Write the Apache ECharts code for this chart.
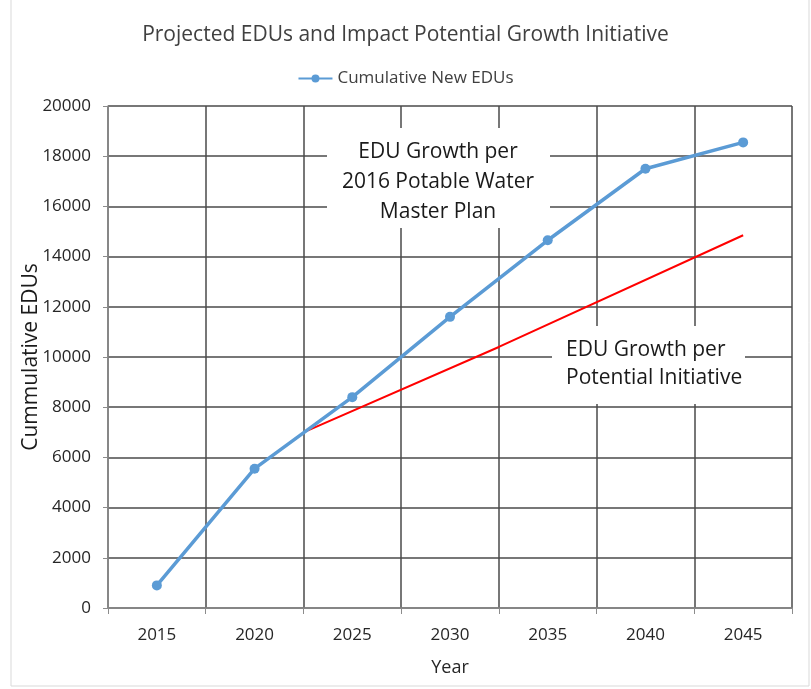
<!DOCTYPE html>
<html>
<head>
<meta charset="utf-8">
<script src="https://cdn.jsdelivr.net/npm/echarts@6/dist/echarts.min.js"></script>
<style>
  html, body { margin: 0; padding: 0; background: #fff; }
  #chart { width: 811px; height: 689px; }
</style>
</head>
<body>
<div id="chart"></div>
<script>
const years = ['2015', '2020', '2025', '2030', '2035', '2040', '2045']
const yearValues = [2015, 2020, 2025, 2030, 2035, 2040, 2045]
const cumulativeEdus = [900, 5550, 8400, 11600, 14650, 17500, 18550]
// red "potential initiative" line
const initiativeYears = [2022.5, 2032.5, 2045]
const initiativeEdus = [7000, 10400, 14850]

const font = 'Open Sans'
const chart = echarts.init(document.getElementById('chart'))

chart.setOption({
  backgroundColor: '#fff',
  textStyle: { fontFamily: font },
  title: {
    text: 'Projected EDUs and Impact Potential Growth Initiative',
    left: 'center',
    top: 20,
    textStyle: { fontSize: 21, fontWeight: 'normal', color: '#404040', fontFamily: font },
  },
  legend: {
    data: ['Cumulative New EDUs'],
    top: 65,
    left: 'center',
    itemWidth: 34,
    itemHeight: 10,
    itemGap: 4,
    textStyle: { fontSize: 17, color: '#404040', fontFamily: font },
  },
  grid: { left: 108, right: 19, top: 106, bottom: 81 },
  xAxis: [
    {
      type: 'category',
      data: years,
      boundaryGap: true,
      name: 'Year',
      nameLocation: 'middle',
      nameGap: 51,
      nameTextStyle: { fontSize: 18, color: '#262626' },
      axisLine: { show: true, lineStyle: { color: '#8c8c8c', width: 1.5 } },
      axisTick: { show: true, length: 6, lineStyle: { color: '#8c8c8c' } },
      axisLabel: { fontSize: 17, color: '#262626', margin: 19 },
      splitLine: { show: true, lineStyle: { color: '#4a4a4a', width: 1.5 } },
    },
    {
      type: 'value',
      show: false,
      min: 2012.5,
      max: 2047.5,
    },
  ],
  yAxis: {
    type: 'value',
    min: 0,
    max: 20000,
    interval: 2000,
    name: 'Cummulative EDUs',
    nameLocation: 'middle',
    nameGap: 66,
    nameMoveOverlap: false,
    nameTextStyle: { fontSize: 21, color: '#1a1a1a' },
    axisLine: { show: true, lineStyle: { color: '#8c8c8c', width: 1.5 } },
    axisTick: { show: true, length: 5, lineStyle: { color: '#8c8c8c' } },
    axisLabel: { fontSize: 17, color: '#262626', margin: 17, formatter: (v) => String(v) },
    splitLine: { show: true, lineStyle: { color: '#4a4a4a', width: 1.5 } },
  },
  series: [
    {
      name: 'Cumulative New EDUs',
      type: 'line',
      xAxisIndex: 1,
      data: yearValues.map((y, i) => [y, cumulativeEdus[i]]),
      color: '#5B9BD5',
      symbol: 'circle',
      symbolSize: 10,
      lineStyle: { width: 3.5 },
      z: 5,
    },
    {
      name: 'Potential Initiative',
      type: 'line',
      xAxisIndex: 1,
      data: initiativeYears.map((y, i) => [y, initiativeEdus[i]]),
      color: '#FF0000',
      symbol: 'none',
      lineStyle: { width: 2 },
      z: 4,
    },
  ],
  graphic: [
    {
      type: 'rect',
      shape: { x: 11, y: -5, width: 798, height: 691 },
      style: { fill: null, stroke: '#d9d9d9', lineWidth: 1 },
      silent: true,
    },
    {
      type: 'rect',
      shape: { x: 327, y: 128, width: 223, height: 100 },
      style: { fill: '#fff' },
      z: 3,
    },
    {
      type: 'text',
      x: 438,
      y: 137,
      style: {
        text: 'EDU Growth per\n2016 Potable Water\nMaster Plan',
        fill: '#1a1a1a',
        font: '21px "Open Sans"',
        align: 'center',
        lineHeight: 30,
      },
      z: 4,
    },
    {
      type: 'rect',
      shape: { x: 552, y: 326, width: 193, height: 78 },
      style: { fill: '#fff' },
      z: 3,
    },
    {
      type: 'text',
      x: 566,
      y: 336,
      style: {
        text: 'EDU Growth per\nPotential Initiative',
        fill: '#1a1a1a',
        font: '21px "Open Sans"',
        align: 'left',
        lineHeight: 28,
      },
      z: 4,
    },
  ],
})
</script>
</body>
</html>
